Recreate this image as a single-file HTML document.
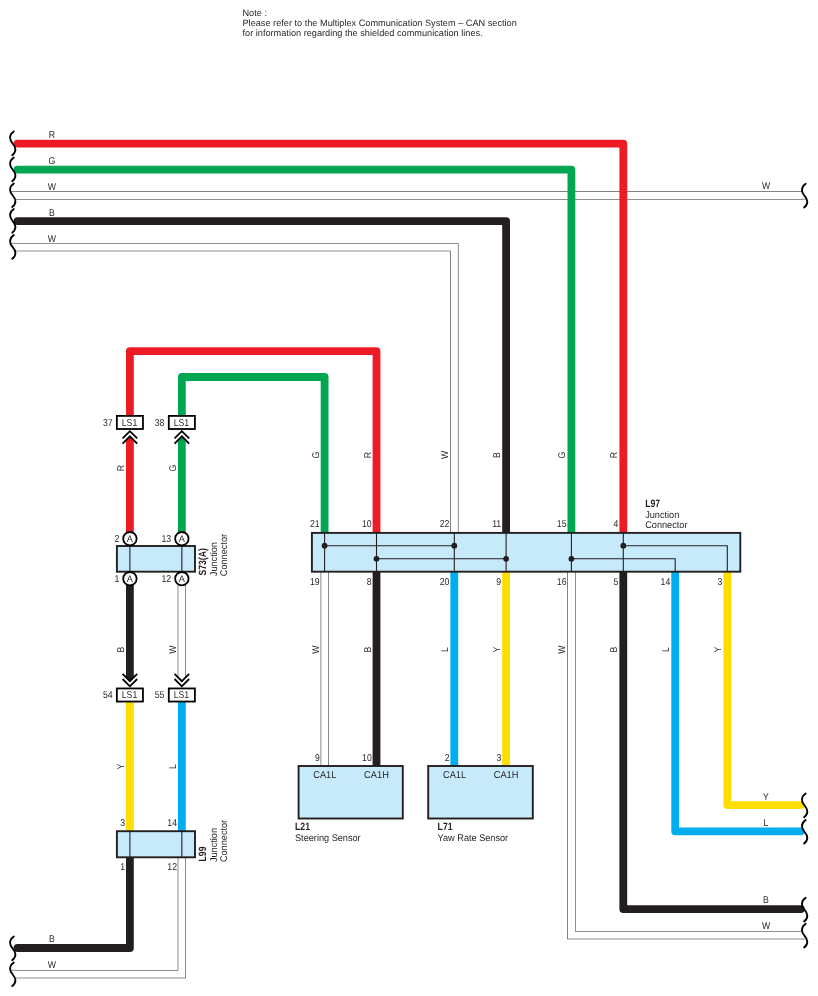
<!DOCTYPE html>
<html lang="en"><head><meta charset="utf-8"><title>CAN wiring diagram</title>
<style>
html,body{margin:0;padding:0;background:#fff;}
svg{display:block;font-family:"Liberation Sans",sans-serif;}
text{text-rendering:geometricPrecision;}
</style></head>
<body>
<svg width="818" height="996" viewBox="0 0 818 996">
<rect width="818" height="996" fill="#fff"/>
<g style="will-change:transform">
<path d="M16,195.35 H802.5" fill="none" stroke="#231F20" stroke-width="8.2" stroke-linejoin="miter" stroke-linecap="butt"/>
<path d="M16,195.35 H802.5" fill="none" stroke="#fff" stroke-width="7.2" stroke-linejoin="miter" stroke-linecap="square"/>
<path d="M11.2,191.50 H16.2" fill="none" stroke="#231F20" stroke-width="0.5"/>
<path d="M802,199.20 H806.9" fill="none" stroke="#231F20" stroke-width="0.5"/>
<path d="M16,247.15 H454.3 V532.9" fill="none" stroke="#231F20" stroke-width="8.2" stroke-linejoin="miter" stroke-linecap="butt"/>
<path d="M16,247.15 H454.3 V532.9" fill="none" stroke="#fff" stroke-width="7.2" stroke-linejoin="miter" stroke-linecap="square"/>
<path d="M11.2,243.30 H16.2" fill="none" stroke="#231F20" stroke-width="0.5"/>
<path d="M17.5,143.6 H623.3 V532.9" fill="none" stroke="#ED1C24" stroke-width="7.8" stroke-linejoin="round" stroke-linecap="round"/>
<path d="M17.5,169.7 H571.4 V532.9" fill="none" stroke="#00A651" stroke-width="7.8" stroke-linejoin="round" stroke-linecap="round"/>
<path d="M17.5,221.1 H506.1 V532.9" fill="none" stroke="#231F20" stroke-width="7.8" stroke-linejoin="round" stroke-linecap="round"/>
<path d="M129.9,538 V351.1 H376.5 V532.9" fill="none" stroke="#ED1C24" stroke-width="7.8" stroke-linejoin="round" stroke-linecap="butt"/>
<path d="M181.85,538 V377 H324.6 V532.9" fill="none" stroke="#00A651" stroke-width="7.8" stroke-linejoin="round" stroke-linecap="butt"/>
<path d="M129.9,579 V682" fill="none" stroke="#231F20" stroke-width="7.8" stroke-linejoin="round" stroke-linecap="butt"/>
<path d="M181.85,579 V682" fill="none" stroke="#231F20" stroke-width="8.2" stroke-linejoin="miter" stroke-linecap="butt"/>
<path d="M181.85,579 V682" fill="none" stroke="#fff" stroke-width="7.2" stroke-linejoin="miter" stroke-linecap="square"/>
<path d="M129.9,700 V832" fill="none" stroke="#FFDD00" stroke-width="7.8" stroke-linejoin="round" stroke-linecap="butt"/>
<path d="M181.85,700 V832" fill="none" stroke="#00AEEF" stroke-width="7.8" stroke-linejoin="round" stroke-linecap="butt"/>
<path d="M181.85,857 V974.1 H16" fill="none" stroke="#231F20" stroke-width="8.2" stroke-linejoin="miter" stroke-linecap="butt"/>
<path d="M181.85,857 V974.1 H16" fill="none" stroke="#fff" stroke-width="7.2" stroke-linejoin="miter" stroke-linecap="square"/>
<path d="M11.2,970.25 H16.2" fill="none" stroke="#231F20" stroke-width="0.5"/>
<path d="M129.9,857 V948 H17.5" fill="none" stroke="#231F20" stroke-width="7.8" stroke-linejoin="round" stroke-linecap="round"/>
<path d="M324.8,571.7 V766" fill="none" stroke="#231F20" stroke-width="8.2" stroke-linejoin="miter" stroke-linecap="butt"/>
<path d="M324.8,571.7 V766" fill="none" stroke="#fff" stroke-width="7.2" stroke-linejoin="miter" stroke-linecap="square"/>
<path d="M376.5,571.7 V766" fill="none" stroke="#231F20" stroke-width="7.8" stroke-linejoin="round" stroke-linecap="butt"/>
<path d="M454.3,571.7 V766" fill="none" stroke="#00AEEF" stroke-width="7.8" stroke-linejoin="round" stroke-linecap="butt"/>
<path d="M506.1,571.7 V766" fill="none" stroke="#FFDD00" stroke-width="7.8" stroke-linejoin="round" stroke-linecap="butt"/>
<path d="M571.4,571.7 V935.2 H802.5" fill="none" stroke="#231F20" stroke-width="8.2" stroke-linejoin="miter" stroke-linecap="butt"/>
<path d="M571.4,571.7 V935.2 H802.5" fill="none" stroke="#fff" stroke-width="7.2" stroke-linejoin="miter" stroke-linecap="square"/>
<path d="M802,939.05 H806.9" fill="none" stroke="#231F20" stroke-width="0.5"/>
<path d="M623.3,571.7 V909.1 H800.8" fill="none" stroke="#231F20" stroke-width="7.8" stroke-linejoin="round" stroke-linecap="round"/>
<path d="M675.2,571.7 V831.35 H800.8" fill="none" stroke="#00AEEF" stroke-width="7.8" stroke-linejoin="round" stroke-linecap="round"/>
<path d="M727.3,571.7 V805.05 H800.8" fill="none" stroke="#FFDD00" stroke-width="7.8" stroke-linejoin="round" stroke-linecap="round"/>
<path transform="translate(0,143.6)" d="M13.8,-12.1 C8.5,-8.5 9.5,-3.5 12.7,0 C15.9,3.5 16.9,8 12.2,11.6" fill="none" stroke="#000" stroke-width="1.85" stroke-linecap="round"/>
<path transform="translate(0,169.7)" d="M13.8,-12.1 C8.5,-8.5 9.5,-3.5 12.7,0 C15.9,3.5 16.9,8 12.2,11.6" fill="none" stroke="#000" stroke-width="1.85" stroke-linecap="round"/>
<path transform="translate(0,195.5)" d="M13.8,-12.1 C8.5,-8.5 9.5,-3.5 12.7,0 C15.9,3.5 16.9,8 12.2,11.6" fill="none" stroke="#000" stroke-width="1.85" stroke-linecap="round"/>
<path transform="translate(0,221.1)" d="M13.8,-12.1 C8.5,-8.5 9.5,-3.5 12.7,0 C15.9,3.5 16.9,8 12.2,11.6" fill="none" stroke="#000" stroke-width="1.85" stroke-linecap="round"/>
<path transform="translate(0,247.15)" d="M13.8,-12.1 C8.5,-8.5 9.5,-3.5 12.7,0 C15.9,3.5 16.9,8 12.2,11.6" fill="none" stroke="#000" stroke-width="1.85" stroke-linecap="round"/>
<path transform="translate(0,948.6)" d="M13.8,-12.1 C8.5,-8.5 9.5,-3.5 12.7,0 C15.9,3.5 16.9,8 12.2,11.6" fill="none" stroke="#000" stroke-width="1.85" stroke-linecap="round"/>
<path transform="translate(0,974.5)" d="M13.8,-12.1 C8.5,-8.5 9.5,-3.5 12.7,0 C15.9,3.5 16.9,8 12.2,11.6" fill="none" stroke="#000" stroke-width="1.85" stroke-linecap="round"/>
<path transform="translate(791.9,195.9)" d="M13.8,-12.1 C8.5,-8.5 9.5,-3.5 12.7,0 C15.9,3.5 16.9,8 12.2,11.6" fill="none" stroke="#000" stroke-width="1.85" stroke-linecap="round"/>
<path transform="translate(791.9,805.7)" d="M13.8,-12.1 C8.5,-8.5 9.5,-3.5 12.7,0 C15.9,3.5 16.9,8 12.2,11.6" fill="none" stroke="#000" stroke-width="1.85" stroke-linecap="round"/>
<path transform="translate(791.9,832.0)" d="M13.8,-12.1 C8.5,-8.5 9.5,-3.5 12.7,0 C15.9,3.5 16.9,8 12.2,11.6" fill="none" stroke="#000" stroke-width="1.85" stroke-linecap="round"/>
<path transform="translate(791.9,909.9)" d="M13.8,-12.1 C8.5,-8.5 9.5,-3.5 12.7,0 C15.9,3.5 16.9,8 12.2,11.6" fill="none" stroke="#000" stroke-width="1.85" stroke-linecap="round"/>
<path transform="translate(791.9,935.9)" d="M13.8,-12.1 C8.5,-8.5 9.5,-3.5 12.7,0 C15.9,3.5 16.9,8 12.2,11.6" fill="none" stroke="#000" stroke-width="1.85" stroke-linecap="round"/>
<rect x="311.9" y="532.9" width="428.40" height="38.80" fill="#C7EAFB" stroke="#231F20" stroke-width="1.9"/>
<path d="M324.6,532.9 V571.7" fill="none" stroke="#231F20" stroke-width="1.1"/>
<path d="M376.5,532.9 V571.7" fill="none" stroke="#231F20" stroke-width="1.1"/>
<path d="M454.3,532.9 V571.7" fill="none" stroke="#231F20" stroke-width="1.1"/>
<path d="M506.1,532.9 V571.7" fill="none" stroke="#231F20" stroke-width="1.1"/>
<path d="M571.4,532.9 V571.7" fill="none" stroke="#231F20" stroke-width="1.1"/>
<path d="M623.3,532.9 V571.7" fill="none" stroke="#231F20" stroke-width="1.1"/>
<path d="M324.6,545.7 H454.3" fill="none" stroke="#231F20" stroke-width="1.1"/>
<path d="M376.5,558.8 H506.1" fill="none" stroke="#231F20" stroke-width="1.1"/>
<path d="M571.4,558.8 H675.2 V571.7" fill="none" stroke="#231F20" stroke-width="1.1"/>
<path d="M623.3,545.7 H727.3 V571.7" fill="none" stroke="#231F20" stroke-width="1.1"/>
<circle cx="324.6" cy="545.7" r="2.9" fill="#231F20"/>
<circle cx="454.3" cy="545.7" r="2.9" fill="#231F20"/>
<circle cx="623.3" cy="545.7" r="2.9" fill="#231F20"/>
<circle cx="376.5" cy="558.8" r="2.9" fill="#231F20"/>
<circle cx="506.1" cy="558.8" r="2.9" fill="#231F20"/>
<circle cx="571.4" cy="558.8" r="2.9" fill="#231F20"/>
<rect x="116.9" y="546.0" width="78.10" height="25.70" fill="#C7EAFB" stroke="#231F20" stroke-width="1.9"/>
<path d="M129.9,546.0 V571.7" fill="none" stroke="#231F20" stroke-width="1.1"/>
<path d="M181.85,546.0 V571.7" fill="none" stroke="#231F20" stroke-width="1.1"/>
<circle cx="129.9" cy="538.7" r="6.7" fill="#fff" stroke="#000" stroke-width="1.8"/>
<text transform="translate(129.9,541.9) scale(0.97,1)" text-anchor="middle" font-size="9.4" fill="#231F20">A</text>
<circle cx="129.9" cy="578.7" r="6.7" fill="#fff" stroke="#000" stroke-width="1.8"/>
<text transform="translate(129.9,581.9) scale(0.97,1)" text-anchor="middle" font-size="9.4" fill="#231F20">A</text>
<circle cx="181.85" cy="538.7" r="6.7" fill="#fff" stroke="#000" stroke-width="1.8"/>
<text transform="translate(181.85,541.9) scale(0.97,1)" text-anchor="middle" font-size="9.4" fill="#231F20">A</text>
<circle cx="181.85" cy="578.7" r="6.7" fill="#fff" stroke="#000" stroke-width="1.8"/>
<text transform="translate(181.85,581.9) scale(0.97,1)" text-anchor="middle" font-size="9.4" fill="#231F20">A</text>
<rect x="116.9" y="831.2" width="78.10" height="26.10" fill="#C7EAFB" stroke="#231F20" stroke-width="1.9"/>
<path d="M129.9,831.2 V857.3" fill="none" stroke="#231F20" stroke-width="1.1"/>
<path d="M181.85,831.2 V857.3" fill="none" stroke="#231F20" stroke-width="1.1"/>
<rect x="298.6" y="766.0" width="104.20" height="52.50" fill="#C7EAFB" stroke="#231F20" stroke-width="1.9"/>
<rect x="428.2" y="766.0" width="104.60" height="52.50" fill="#C7EAFB" stroke="#231F20" stroke-width="1.9"/>
<path d="M125.30000000000001,428.9 H134.5 V440.85 L129.9,436.25 L125.30000000000001,440.85Z" fill="#fff"/>
<path d="M122.60000000000001,438.45 L129.9,431.15 L137.20000000000002,438.45" fill="none" stroke="#000" stroke-width="1.8"/>
<path d="M122.60000000000001,443.55 L129.9,436.25 L137.20000000000002,443.55" fill="none" stroke="#000" stroke-width="1.8"/>
<rect x="116.85" y="415.90" width="26.1" height="13.1" fill="#fff" stroke="#000" stroke-width="1.8"/>
<text transform="translate(129.5,425.8) scale(0.87,1)" text-anchor="middle" font-size="10" fill="#231F20">LS1</text>
<path d="M177.25,428.9 H186.45 V440.85 L181.85,436.25 L177.25,440.85Z" fill="#fff"/>
<path d="M174.54999999999998,438.45 L181.85,431.15 L189.15,438.45" fill="none" stroke="#000" stroke-width="1.8"/>
<path d="M174.54999999999998,443.55 L181.85,436.25 L189.15,443.55" fill="none" stroke="#000" stroke-width="1.8"/>
<rect x="168.80" y="415.90" width="26.1" height="13.1" fill="#fff" stroke="#000" stroke-width="1.8"/>
<text transform="translate(181.45,425.8) scale(0.87,1)" text-anchor="middle" font-size="10" fill="#231F20">LS1</text>
<path d="M125.30000000000001,688.55 H134.5 V676.5999999999999 L129.9,681.1999999999999 L125.30000000000001,676.5999999999999Z" fill="#fff"/>
<path d="M122.60000000000001,673.90 L129.9,681.20 L137.20000000000002,673.90" fill="none" stroke="#000" stroke-width="1.8"/>
<path d="M122.60000000000001,679.00 L129.9,686.30 L137.20000000000002,679.00" fill="none" stroke="#000" stroke-width="1.8"/>
<rect x="116.85" y="688.45" width="26.1" height="13.1" fill="#fff" stroke="#000" stroke-width="1.8"/>
<text transform="translate(129.5,698.35) scale(0.87,1)" text-anchor="middle" font-size="10" fill="#231F20">LS1</text>
<path d="M177.25,688.55 H186.45 V676.5999999999999 L181.85,681.1999999999999 L177.25,676.5999999999999Z" fill="#fff"/>
<path d="M174.54999999999998,673.90 L181.85,681.20 L189.15,673.90" fill="none" stroke="#000" stroke-width="1.8"/>
<path d="M174.54999999999998,679.00 L181.85,686.30 L189.15,679.00" fill="none" stroke="#000" stroke-width="1.8"/>
<rect x="168.80" y="688.45" width="26.1" height="13.1" fill="#fff" stroke="#000" stroke-width="1.8"/>
<text transform="translate(181.45,698.35) scale(0.87,1)" text-anchor="middle" font-size="10" fill="#231F20">LS1</text>
<text transform="translate(103,425.5) scale(0.87,1)" text-anchor="start" font-size="10" fill="#231F20">37</text>
<text transform="translate(154.7,425.5) scale(0.87,1)" text-anchor="start" font-size="10" fill="#231F20">38</text>
<text transform="translate(103,698.2) scale(0.87,1)" text-anchor="start" font-size="10" fill="#231F20">54</text>
<text transform="translate(154.7,698.2) scale(0.87,1)" text-anchor="start" font-size="10" fill="#231F20">55</text>
<text transform="translate(119.4,542.3) scale(0.87,1)" text-anchor="end" font-size="10" fill="#231F20">2</text>
<text transform="translate(171.2,542.3) scale(0.87,1)" text-anchor="end" font-size="10" fill="#231F20">13</text>
<text transform="translate(119.4,582.3) scale(0.87,1)" text-anchor="end" font-size="10" fill="#231F20">1</text>
<text transform="translate(171.2,582.3) scale(0.87,1)" text-anchor="end" font-size="10" fill="#231F20">12</text>
<text transform="translate(125.2,825.9) scale(0.87,1)" text-anchor="end" font-size="10" fill="#231F20">3</text>
<text transform="translate(177.0,825.9) scale(0.87,1)" text-anchor="end" font-size="10" fill="#231F20">14</text>
<text transform="translate(125.2,870.3) scale(0.87,1)" text-anchor="end" font-size="10" fill="#231F20">1</text>
<text transform="translate(177.0,870.3) scale(0.87,1)" text-anchor="end" font-size="10" fill="#231F20">12</text>
<text transform="translate(319.70000000000005,527.2) scale(0.87,1)" text-anchor="end" font-size="10" fill="#231F20">21</text>
<text transform="translate(371.6,527.2) scale(0.87,1)" text-anchor="end" font-size="10" fill="#231F20">10</text>
<text transform="translate(449.40000000000003,527.2) scale(0.87,1)" text-anchor="end" font-size="10" fill="#231F20">22</text>
<text transform="translate(501.20000000000005,527.2) scale(0.87,1)" text-anchor="end" font-size="10" fill="#231F20">11</text>
<text transform="translate(566.5,527.2) scale(0.87,1)" text-anchor="end" font-size="10" fill="#231F20">15</text>
<text transform="translate(618.4,527.2) scale(0.87,1)" text-anchor="end" font-size="10" fill="#231F20">4</text>
<text transform="translate(319.70000000000005,584.6) scale(0.87,1)" text-anchor="end" font-size="10" fill="#231F20">19</text>
<text transform="translate(371.6,584.6) scale(0.87,1)" text-anchor="end" font-size="10" fill="#231F20">8</text>
<text transform="translate(449.40000000000003,584.6) scale(0.87,1)" text-anchor="end" font-size="10" fill="#231F20">20</text>
<text transform="translate(501.20000000000005,584.6) scale(0.87,1)" text-anchor="end" font-size="10" fill="#231F20">9</text>
<text transform="translate(566.5,584.6) scale(0.87,1)" text-anchor="end" font-size="10" fill="#231F20">16</text>
<text transform="translate(618.4,584.6) scale(0.87,1)" text-anchor="end" font-size="10" fill="#231F20">5</text>
<text transform="translate(670.3000000000001,584.6) scale(0.87,1)" text-anchor="end" font-size="10" fill="#231F20">14</text>
<text transform="translate(722.4,584.6) scale(0.87,1)" text-anchor="end" font-size="10" fill="#231F20">3</text>
<text transform="translate(319.90000000000003,761.4) scale(0.87,1)" text-anchor="end" font-size="10" fill="#231F20">9</text>
<text transform="translate(371.8,761.4) scale(0.87,1)" text-anchor="end" font-size="10" fill="#231F20">10</text>
<text transform="translate(449.6,761.4) scale(0.87,1)" text-anchor="end" font-size="10" fill="#231F20">2</text>
<text transform="translate(501.40000000000003,761.4) scale(0.87,1)" text-anchor="end" font-size="10" fill="#231F20">3</text>
<text transform="translate(324.8,777.9) scale(0.92,1)" text-anchor="middle" font-size="10" fill="#231F20">CA1L</text>
<text transform="translate(376.5,777.9) scale(0.93,1)" text-anchor="middle" font-size="10" fill="#231F20">CA1H</text>
<text transform="translate(454.5,777.9) scale(0.92,1)" text-anchor="middle" font-size="10" fill="#231F20">CA1L</text>
<text transform="translate(506.1,777.9) scale(0.93,1)" text-anchor="middle" font-size="10" fill="#231F20">CA1H</text>
<text transform="translate(295.0,830.1) scale(0.82,1)" text-anchor="start" font-size="10.6" font-weight="bold" fill="#231F20">L21</text>
<text transform="translate(295.0,840.9) scale(0.945,1)" text-anchor="start" font-size="9.7" fill="#231F20">Steering Sensor</text>
<text transform="translate(437.6,830.1) scale(0.82,1)" text-anchor="start" font-size="10.6" font-weight="bold" fill="#231F20">L71</text>
<text transform="translate(437.6,840.9) scale(0.945,1)" text-anchor="start" font-size="9.7" fill="#231F20">Yaw Rate Sensor</text>
<text transform="translate(645.2,507.0) scale(0.82,1)" text-anchor="start" font-size="10.6" font-weight="bold" fill="#231F20">L97</text>
<text transform="translate(645.2,518.3) scale(0.945,1)" text-anchor="start" font-size="9.7" fill="#231F20">Junction</text>
<text transform="translate(645.2,527.5) scale(0.945,1)" text-anchor="start" font-size="9.7" fill="#231F20">Connector</text>
<text transform="translate(206.3,575.6) rotate(-90) scale(0.82,1)" text-anchor="start" font-size="10.6" font-weight="bold" fill="#231F20">S73(A)</text>
<text transform="translate(216.7,576.2) rotate(-90) scale(0.945,1)" text-anchor="start" font-size="9.7" fill="#231F20">Junction</text>
<text transform="translate(226.5,576.2) rotate(-90) scale(0.945,1)" text-anchor="start" font-size="9.7" fill="#231F20">Connector</text>
<text transform="translate(206.3,861.5) rotate(-90) scale(0.82,1)" text-anchor="start" font-size="10.6" font-weight="bold" fill="#231F20">L99</text>
<text transform="translate(216.7,862.1) rotate(-90) scale(0.945,1)" text-anchor="start" font-size="9.7" fill="#231F20">Junction</text>
<text transform="translate(226.5,862.1) rotate(-90) scale(0.945,1)" text-anchor="start" font-size="9.7" fill="#231F20">Connector</text>
<text transform="translate(51.8,138.0) scale(0.89,1)" text-anchor="middle" font-size="9.8" fill="#231F20">R</text>
<text transform="translate(51.8,164.1) scale(0.89,1)" text-anchor="middle" font-size="9.8" fill="#231F20">G</text>
<text transform="translate(51.8,189.75) scale(0.89,1)" text-anchor="middle" font-size="9.8" fill="#231F20">W</text>
<text transform="translate(51.8,215.5) scale(0.89,1)" text-anchor="middle" font-size="9.8" fill="#231F20">B</text>
<text transform="translate(51.8,241.55) scale(0.89,1)" text-anchor="middle" font-size="9.8" fill="#231F20">W</text>
<text transform="translate(51.8,942.0) scale(0.89,1)" text-anchor="middle" font-size="9.8" fill="#231F20">B</text>
<text transform="translate(51.8,968.4) scale(0.89,1)" text-anchor="middle" font-size="9.8" fill="#231F20">W</text>
<text transform="translate(766.0,189.4) scale(0.89,1)" text-anchor="middle" font-size="9.8" fill="#231F20">W</text>
<text transform="translate(766.0,799.8) scale(0.89,1)" text-anchor="middle" font-size="9.8" fill="#231F20">Y</text>
<text transform="translate(766.0,826.1) scale(0.89,1)" text-anchor="middle" font-size="9.8" fill="#231F20">L</text>
<text transform="translate(766.0,903.2) scale(0.89,1)" text-anchor="middle" font-size="9.8" fill="#231F20">B</text>
<text transform="translate(766.0,929.1) scale(0.89,1)" text-anchor="middle" font-size="9.8" fill="#231F20">W</text>
<text transform="translate(123.9,468) rotate(-90) scale(0.89,1)" text-anchor="middle" font-size="9.8" fill="#231F20">R</text>
<text transform="translate(175.85,468) rotate(-90) scale(0.89,1)" text-anchor="middle" font-size="9.8" fill="#231F20">G</text>
<text transform="translate(318.6,455) rotate(-90) scale(0.89,1)" text-anchor="middle" font-size="9.8" fill="#231F20">G</text>
<text transform="translate(370.5,455) rotate(-90) scale(0.89,1)" text-anchor="middle" font-size="9.8" fill="#231F20">R</text>
<text transform="translate(448.3,455) rotate(-90) scale(0.89,1)" text-anchor="middle" font-size="9.8" fill="#231F20">W</text>
<text transform="translate(500.1,455) rotate(-90) scale(0.89,1)" text-anchor="middle" font-size="9.8" fill="#231F20">B</text>
<text transform="translate(565.4,455) rotate(-90) scale(0.89,1)" text-anchor="middle" font-size="9.8" fill="#231F20">G</text>
<text transform="translate(617.3,455) rotate(-90) scale(0.89,1)" text-anchor="middle" font-size="9.8" fill="#231F20">R</text>
<text transform="translate(123.9,649.6) rotate(-90) scale(0.89,1)" text-anchor="middle" font-size="9.8" fill="#231F20">B</text>
<text transform="translate(175.85,649.6) rotate(-90) scale(0.89,1)" text-anchor="middle" font-size="9.8" fill="#231F20">W</text>
<text transform="translate(318.6,649.6) rotate(-90) scale(0.89,1)" text-anchor="middle" font-size="9.8" fill="#231F20">W</text>
<text transform="translate(370.5,649.6) rotate(-90) scale(0.89,1)" text-anchor="middle" font-size="9.8" fill="#231F20">B</text>
<text transform="translate(448.3,649.6) rotate(-90) scale(0.89,1)" text-anchor="middle" font-size="9.8" fill="#231F20">L</text>
<text transform="translate(500.1,649.6) rotate(-90) scale(0.89,1)" text-anchor="middle" font-size="9.8" fill="#231F20">Y</text>
<text transform="translate(565.4,649.6) rotate(-90) scale(0.89,1)" text-anchor="middle" font-size="9.8" fill="#231F20">W</text>
<text transform="translate(617.3,649.6) rotate(-90) scale(0.89,1)" text-anchor="middle" font-size="9.8" fill="#231F20">B</text>
<text transform="translate(669.2,649.6) rotate(-90) scale(0.89,1)" text-anchor="middle" font-size="9.8" fill="#231F20">L</text>
<text transform="translate(721.3,649.6) rotate(-90) scale(0.89,1)" text-anchor="middle" font-size="9.8" fill="#231F20">Y</text>
<text transform="translate(123.9,766.6) rotate(-90) scale(0.89,1)" text-anchor="middle" font-size="9.8" fill="#231F20">Y</text>
<text transform="translate(175.85,766.6) rotate(-90) scale(0.89,1)" text-anchor="middle" font-size="9.8" fill="#231F20">L</text>
<text transform="translate(242.5,16.3)" text-anchor="start" font-size="9.18" fill="#231F20">Note :</text>
<text transform="translate(242.5,26.3)" text-anchor="start" font-size="9.18" fill="#231F20">Please refer to the Multiplex Communication System – CAN section</text>
<text transform="translate(242.5,35.6)" text-anchor="start" font-size="9.18" fill="#231F20">for information regarding the shielded communication lines.</text>
</g>
</svg>
</body></html>
